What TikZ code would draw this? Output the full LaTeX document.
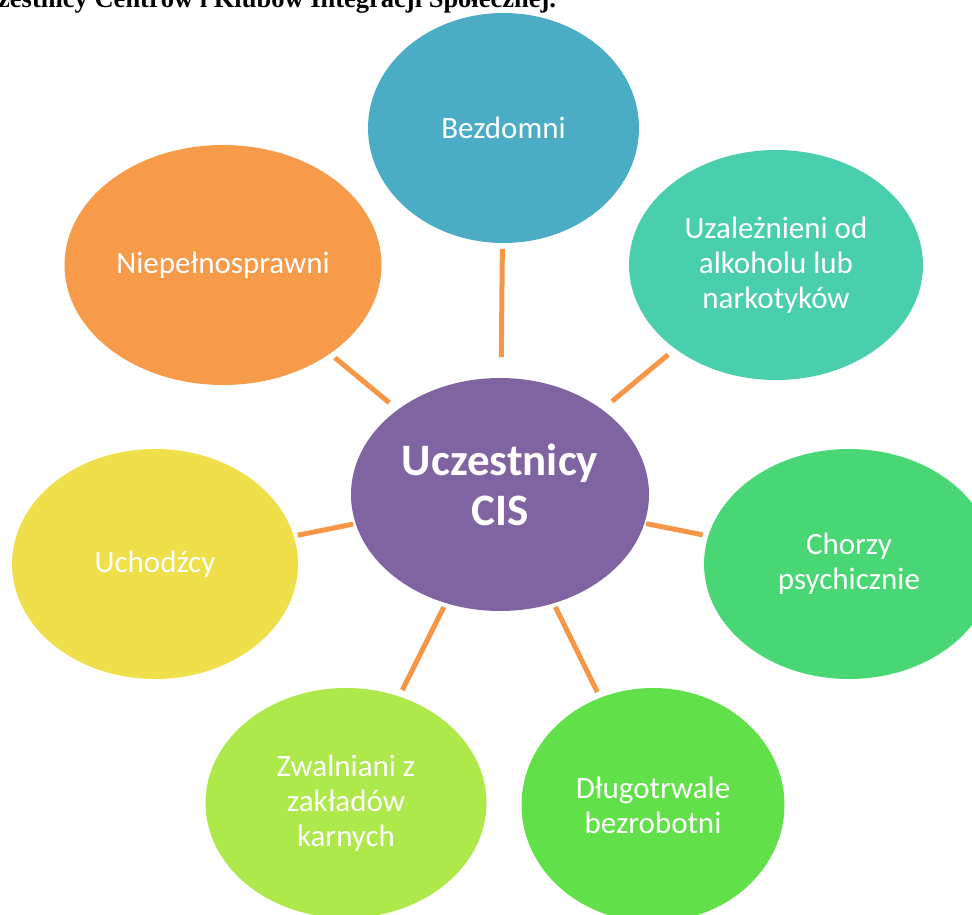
\documentclass[tikz,border=0pt]{standalone}
\usepackage{fontspec}
\setmainfont{Carlito}
\newfontfamily\titlefont{Liberation Serif}
\usetikzlibrary{shapes.geometric, calc}

\definecolor{cisPurple}{HTML}{8064A2}
\definecolor{bezBlue}{HTML}{4BACC6}
\definecolor{uzaTeal}{HTML}{4ACFAE}
\definecolor{choGreen}{HTML}{48D774}
\definecolor{dluGreen}{HTML}{62E04A}
\definecolor{zwaLime}{HTML}{ADE94B}
\definecolor{uchYellow}{HTML}{EFE04B}
\definecolor{nieOrange}{HTML}{F79A4A}
\definecolor{linkOrange}{HTML}{F79646}

\begin{document}
\begin{tikzpicture}[
		x=1pt, y=-1pt, % pixel coordinates, y going down
		blob/.style={
				ellipse,
				draw=none,
				text=white,
				inner sep=0pt,
				align=center,
				font=\fontsize{31}{35}\selectfont
			},
		link/.style={draw=linkOrange, line width=5pt}
	]
	\useasboundingbox (0,0) rectangle (972,915);

	% heading, cut off by the page edge
	\node[anchor=base west, inner sep=0pt, font=\titlefont\bfseries\fontsize{26.5}{30}\selectfont] (title) at (-2,7.5)
	{zestnicy Centrów i Klubów Integracji Społecznej.};

	\node[blob, fill=cisPurple, minimum width=298pt, minimum height=233pt,
		label={[text=white, align=center, yshift=10pt, font=\bfseries\fontsize{45}{50}\selectfont]center:Uczestnicy\\CIS}] (cis) at (500,494.5) {};

	\node[blob, fill=bezBlue, minimum width=271pt, minimum height=230pt] (bez) at (503.5,128) {Bezdomni};
	\node[blob, fill=uzaTeal, minimum width=294pt, minimum height=230pt] (uza) at (776,265) {Uzależnieni od\\alkoholu lub\\narkotyków};
	\node[blob, fill=choGreen, minimum width=290pt, minimum height=230pt] (cho) at (849,564) {Chorzy\\psychicznie};
	\node[blob, fill=dluGreen, minimum width=263pt, minimum height=234pt] (dlu) at (653,805) {Długotrwale\\bezrobotni};
	\node[blob, fill=zwaLime, minimum width=281pt, minimum height=230pt] (zwa) at (346,803) {Zwalniani z\\zakładów\\karnych};
	\node[blob, fill=uchYellow, minimum width=286pt, minimum height=230pt] (uch) at (155,564) {Uchodźcy};
	\node[blob, fill=nieOrange, minimum width=317pt, minimum height=240pt] (nie) at (223,265) {Niepełnosprawni};

	% spokes, only the middle part of each centre line
	\foreach \n/\a/\b in {bez/0.375/0.670, uza/0.406/0.609, cho/0.419/0.581, dlu/0.362/0.636,
			zwa/0.365/0.634, uch/0.426/0.586, nie/0.400/0.596}
		\draw[link] ($(cis)!\a!(\n)$) -- ($(cis)!\b!(\n)$);

\end{tikzpicture}
\end{document}
